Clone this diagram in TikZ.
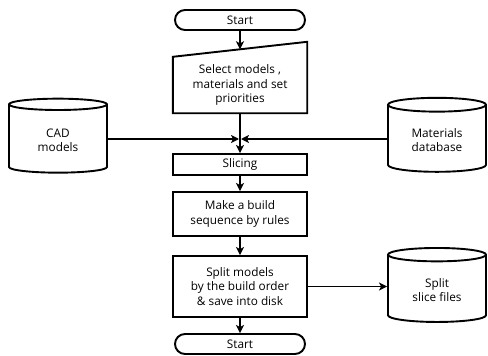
\documentclass[tikz,border=0pt]{standalone}
\usepackage{fontspec}
\setmainfont{Open Sans}
\usetikzlibrary{arrows.meta,calc,positioning,shapes.geometric,shapes.misc}

\begin{document}
\begin{tikzpicture}[x=1pt,y=1pt,
  font=\fontsize{11.8}{14.3}\selectfont,
  box/.style={draw,line width=1.9pt,align=center,minimum width=134,inner sep=2pt},
  terminal/.style={draw,line width=1.9pt,rounded rectangle,minimum width=132,
                   minimum height=20,inner sep=1pt},
  store/.style={draw,line width=1.9pt,cylinder,shape border rotate=90,aspect=0.24,
                minimum width=98,minimum height=74,align=center},
  flow/.style={-{Stealth[length=8pt,width=8pt,inset=2pt]},line width=1.9pt}
]
% pixel-like grid: 488 x 356, y grows downwards as negative values
\path[use as bounding box] (0,0) rectangle (488,-356);

\node[terminal] (start) at (240,-20) {Start};

\node[minimum width=134,minimum height=56,align=center,inner sep=0] (select) at (240,-85)
  {Select models ,\\materials and set\\priorities};
\draw[line width=1.9pt] (select.south west) -- (select.south east)
  -- ($(select.north east)+(0,15)$) -- (select.north west) -- cycle;
\coordinate (selecttop) at ($(select.north)+(0,7.5)$);

\node[box,minimum height=21] (slicing) at (240,-164.5) {Slicing};
\node[box,minimum height=44] (build) at (240,-214) {Make a build\\sequence by rules};
\node[box,minimum height=61] (split) at (240,-286.5)
  {Split models\\by the build order\\\& save into disk};
\node[terminal] (stop) at (240,-344) {Start};

\node[store] (cad) at (58,-140) {CAD\\models};
\node[store] (materials) at (437,-140) {Materials\\database};
\node[store] (slices) at (437,-290) {Split\\slice files};
\coordinate (join) at (240,-139);

\draw[flow] (start) -- (selecttop);
\draw[flow] (select) -- (slicing);
\draw[flow,shorten >=1pt] (cad.east |- join) -- (join);
\draw[flow,shorten >=1pt] (materials.west |- join) -- (join);
\draw[flow] (slicing) -- (build);
\draw[flow] (build) -- (split);
\draw[flow] (split) -- (stop);
\draw[flow] (split.east) -- (slices.west |- split.east);
\end{tikzpicture}
\end{document}
